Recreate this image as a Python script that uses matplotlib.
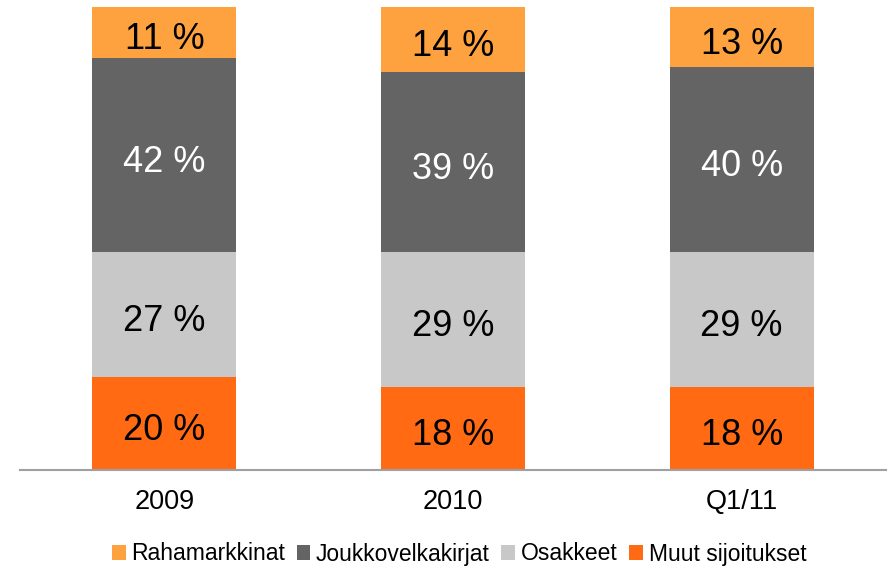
import matplotlib
matplotlib.use("Agg")
import matplotlib.pyplot as plt
from matplotlib.patches import Patch
from matplotlib.transforms import offset_copy

plt.rcParams['font.family'] = ['Liberation Sans', 'DejaVu Sans']

categories = ["2009", "2010", "Q1/11"]
series_names = ["Muut sijoitukset", "Osakkeet", "Joukkovelkakirjat", "Rahamarkkinat"]
muut = [20, 18, 18]
osakkeet = [27, 29, 29]
joukko = [42, 39, 40]
raha = [11, 14, 13]
series = [muut, osakkeet, joukko, raha]
colors = ["#FF6A13", "#C8C8C8", "#646464", "#FDA23E"]
text_colors = ["black", "black", "white", "black"]

fig = plt.figure(figsize=(8.89, 5.68), dpi=100)
ax = fig.add_axes([20/889, 1-470/568, 866/889, 463/568])
trans = offset_copy(ax.transData, fig=fig, x=0, y=-7, units='dots')

x = list(range(len(categories)))
bottom = [0]*len(categories)
for vals, col, tc in zip(series, colors, text_colors):
    ax.bar(x, vals, width=0.5, bottom=bottom, color=col, edgecolor='none')
    for xi, v, b in zip(x, vals, bottom):
        ax.text(xi, b + v/2, f"{v} %", ha='center', va='center', fontsize=26, color=tc,
                transform=trans)
    bottom = [b + v for b, v in zip(bottom, vals)]

ax.set_xlim(-0.5, 2.5)
ax.set_ylim(0, 100)
ax.set_xticks(x)
ax.set_xticklabels(categories, fontsize=19.5)
ax.tick_params(axis='x', length=0, pad=14)
ax.set_yticks([])
for s in ['top', 'right', 'left']:
    ax.spines[s].set_visible(False)
ax.spines['bottom'].set_color('#A0A0A0')
ax.spines['bottom'].set_linewidth(1.5)

legend_order = [3, 2, 1, 0]
handles = [Patch(facecolor=colors[i], edgecolor='none') for i in legend_order]
labels = [series_names[i] for i in legend_order]
fig.legend(handles, labels, loc='center', bbox_to_anchor=(459/889, 1-554/568), ncol=4,
           frameon=False, fontsize=16.5, handlelength=0.6, handleheight=0.6,
           handletextpad=0.25, columnspacing=0.5, borderpad=0)

fig.savefig("out.png", dpi=100)
